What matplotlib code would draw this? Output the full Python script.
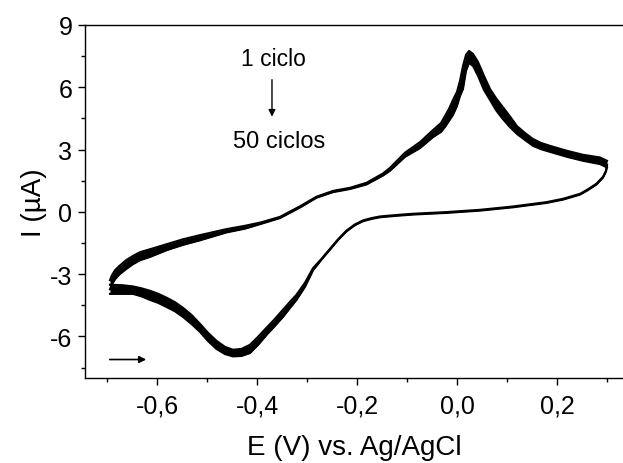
import matplotlib
matplotlib.use("Agg")
import matplotlib.pyplot as plt

plt.rcParams['font.family'] = ['Liberation Sans', 'DejaVu Sans']
plt.rcParams['axes.unicode_minus'] = False

# forward scan (-0.7 V -> 0.3 V), both edges of the 50-cycle band
E_fwd = [-0.695, -0.671, -0.649, -0.632, -0.615, -0.599, -0.582, -0.565, -0.549,
         -0.532, -0.515, -0.499, -0.482, -0.465, -0.449, -0.432, -0.415, -0.399,
         -0.382, -0.365, -0.349, -0.335, -0.322, -0.305, -0.289, -0.272, -0.255,
         -0.239, -0.222, -0.205, -0.189, -0.172, -0.155, -0.122, -0.089, -0.022,
         0.045, 0.111, 0.178, 0.211, 0.245, 0.261, 0.278, 0.291, 0.297, 0.299]
I_fwd_first = [-3.95, -3.95, -3.95, -4.07, -4.24, -4.38, -4.58, -4.79, -5.06,
               -5.40, -5.78, -6.22, -6.60, -6.85, -6.96, -6.94, -6.80, -6.41,
               -5.93, -5.49, -5.06, -4.63, -4.24, -3.61, -2.82, -2.30, -1.82,
               -1.36, -0.94, -0.64, -0.45, -0.34, -0.26, -0.19, -0.13, -0.05,
               0.06, 0.22, 0.43, 0.59, 0.83, 1.05, 1.32, 1.65, 1.94, 2.23]
I_fwd_last = [-3.51, -3.53, -3.59, -3.68, -3.80, -3.94, -4.13, -4.35, -4.62,
              -4.96, -5.39, -5.82, -6.21, -6.50, -6.64, -6.60, -6.40, -6.02,
              -5.58, -5.15, -4.71, -4.33, -3.99, -3.41, -2.71, -2.26, -1.78,
              -1.32, -0.90, -0.60, -0.41, -0.30, -0.22, -0.15, -0.09, -0.01,
              0.10, 0.26, 0.47, 0.63, 0.87, 1.09, 1.36, 1.69, 1.98, 2.27]

# reverse scan (0.3 V -> -0.7 V)
E_rev = [0.299, 0.285, 0.251, 0.219, 0.185, 0.167, 0.151, 0.135, 0.119, 0.103,
         0.089, 0.077, 0.065, 0.053, 0.041, 0.031, 0.023, 0.017, 0.011, 0.005,
         -0.001, -0.009, -0.017, -0.025, -0.033, -0.049, -0.075, -0.105, -0.135,
         -0.149, -0.182, -0.215, -0.249, -0.282, -0.315, -0.355, -0.392, -0.425,
         -0.462, -0.515, -0.549, -0.582, -0.615, -0.635, -0.649, -0.663, -0.676,
         -0.685, -0.691, -0.695]
I_rev_first = [2.46, 2.62, 2.75, 2.94, 3.18, 3.32, 3.51, 3.80, 4.13, 4.66,
               5.10, 5.48, 5.92, 6.55, 7.22, 7.61, 7.75, 7.56, 7.03, 6.31,
               5.78, 5.39, 4.96, 4.62, 4.28, 3.94, 3.36, 2.85, 2.12,
               1.85, 1.40, 1.16, 1.01, 0.73, 0.27, -0.24, -0.50, -0.67,
               -0.83, -1.12, -1.32, -1.56, -1.80, -1.94, -2.12, -2.33, -2.60,
               -2.81, -3.05, -3.29]
I_rev_last = [2.14, 2.30, 2.46, 2.65, 2.89, 3.02, 3.18, 3.46, 3.75, 4.13,
              4.52, 4.90, 5.39, 5.87, 6.55, 7.03, 7.17, 6.79, 5.92, 5.58,
              5.10, 4.67, 4.38, 4.09, 3.85, 3.60, 3.07, 2.65, 1.98,
              1.75, 1.32, 1.10, 0.95, 0.68, 0.21, -0.30, -0.57, -0.81,
              -0.99, -1.37, -1.59, -1.85, -2.17, -2.33, -2.52, -2.76, -3.01,
              -3.25, -3.49, -3.73]

x_ticks = [-0.6, -0.4, -0.2, 0.0, 0.2]
x_labels = ['-0,6', '-0,4', '-0,2', '0,0', '0,2']
x_minor = [-0.7, -0.5, -0.3, -0.1, 0.1, 0.3]
y_ticks = [-6, -3, 0, 3, 6, 9]
y_minor = [-7.5, -4.5, -1.5, 1.5, 4.5, 7.5]

fig = plt.figure(figsize=(6.23, 4.64), dpi=100)
ax = fig.add_axes([0.1364, 0.1832, 0.8636, 0.7608])

ax.fill_between(E_fwd, I_fwd_first, I_fwd_last, color='black', lw=0)
ax.fill_between(E_rev, I_rev_first, I_rev_last, color='black', lw=0)
for e, i in [(E_fwd, I_fwd_first), (E_fwd, I_fwd_last),
             (E_rev, I_rev_first), (E_rev, I_rev_last)]:
    ax.plot(e, i, color='black', lw=1.5, solid_joinstyle='round')

ax.set_xlim(-0.745, 0.331)
ax.set_ylim(-8, 9)

ax.set_xticks(x_ticks)
ax.set_xticklabels(x_labels)
ax.set_xticks(x_minor, minor=True)
ax.set_yticks(y_ticks)
ax.set_yticks(y_minor, minor=True)
ax.tick_params(which='major', direction='out', length=5, width=1, labelsize=18)
ax.tick_params(which='minor', direction='out', length=3, width=1)
ax.tick_params(axis='x', which='major', pad=6)
ax.tick_params(axis='y', which='major', pad=4)
ax.spines['right'].set_visible(False)
for s in ['left', 'bottom', 'top']:
    ax.spines[s].set_linewidth(1)

ax.set_xlabel('E (V) vs. Ag/AgCl', fontsize=20, labelpad=12)
ax.set_ylabel('I (µA)', fontsize=20, labelpad=2)

# annotations
ax.text(-0.369, 7.37, '1 ciclo', fontsize=16.5, ha='center', va='center')
ax.annotate('', xy=(-0.371, 4.45), xytext=(-0.371, 6.5),
            arrowprops=dict(arrowstyle='-|>', color='black', lw=1, mutation_scale=10))
ax.text(-0.357, 3.42, '50 ciclos', fontsize=17, ha='center', va='center')
ax.annotate('', xy=(-0.617, -7.11), xytext=(-0.701, -7.11),
            arrowprops=dict(arrowstyle='-|>', color='black', lw=1.2, mutation_scale=10))

fig.savefig('out.png', dpi=100)
